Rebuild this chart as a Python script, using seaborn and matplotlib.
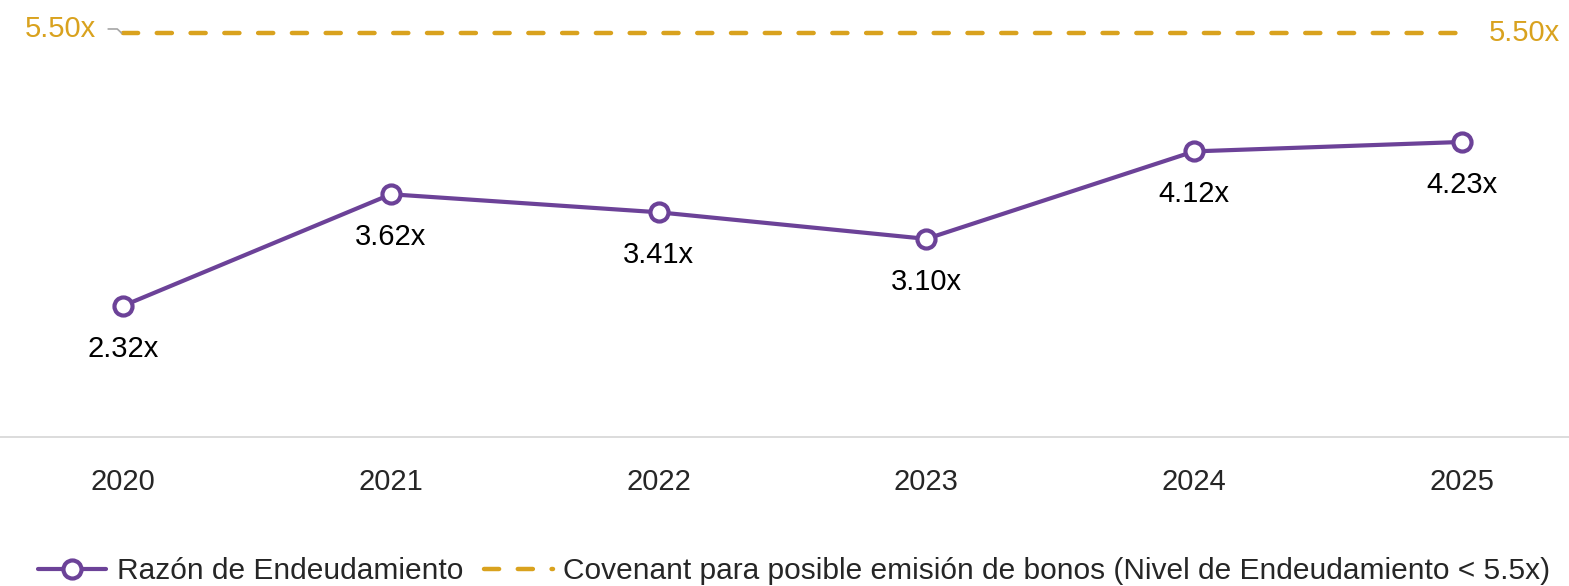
import matplotlib
matplotlib.use("Agg")
import matplotlib.pyplot as plt
import seaborn as sns
import pandas as pd

years = ["2020", "2021", "2022", "2023", "2024", "2025"]
ratio = [2.32, 3.62, 3.41, 3.10, 4.12, 4.23]
covenant = [5.5, 5.5, 5.5, 5.5, 5.5, 5.5]

purple = "#6C4298"
gold = "#D9A21E"

df = pd.DataFrame({"year": years, "ratio": ratio, "covenant": covenant})
df["pos"] = range(len(years))

sns.set_style("white")
plt.rcParams["font.family"] = ["Liberation Sans", "DejaVu Sans"]
fs = 21

fig = plt.figure(figsize=(15.69, 5.86), dpi=100)
ax = fig.add_axes([0, 1 - 437 / 586, 1, 437 / 586])

sns.lineplot(data=df, x="pos", y="covenant", ax=ax, color=gold, lw=3.2,
             dashes=(3.4, 4.2), dash_capstyle="round",
             label="Covenant para posible emisión de bonos (Nivel de Endeudamiento < 5.5x)")
sns.lineplot(data=df, x="pos", y="ratio", ax=ax, color=purple, lw=3,
             marker="o", markersize=13, markerfacecolor="white",
             markeredgecolor=purple, markeredgewidth=3,
             label="Razón de Endeudamiento")

for p, v in zip(df["pos"], df["ratio"]):
    ax.annotate(f"{v:.2f}x", (p, v), xytext=(0, -31), textcoords="offset points",
                ha="center", va="center", fontsize=fs, color="black")

# covenant labels at both ends
ax.annotate(f"{covenant[0]:.2f}x", (0, covenant[0]), xytext=(-45, 3),
            textcoords="offset points", ha="center", va="center",
            fontsize=fs, color=gold)
ax.plot([-0.056, -0.022, -0.006], [5.547, 5.547, 5.5], color="#A6A6A6", lw=1.2)
ax.annotate(f"{covenant[-1]:.2f}x", (5, covenant[-1]), xytext=(45, 0),
            textcoords="offset points", ha="center", va="center",
            fontsize=fs, color=gold)

ax.set_xlim(-0.46, 5.40)
ax.set_ylim(0.79, 5.885)
ax.set_xticks(df["pos"])
ax.set_xticklabels(years, fontsize=fs)
ax.tick_params(axis="x", length=0, pad=22)
ax.set_yticks([])
ax.set_xlabel("")
ax.set_ylabel("")
for s in ["top", "left", "right"]:
    ax.spines[s].set_visible(False)
ax.spines["bottom"].set_color("#D9D9D9")
ax.spines["bottom"].set_linewidth(1.3)

h, l = ax.get_legend_handles_labels()
ax.get_legend().remove()
fig.legend(h[::-1], l[::-1], loc="center", bbox_to_anchor=(0.506, 1 - 571 / 586),
           ncol=2, frameon=False, fontsize=21.5, handlelength=2.3, handletextpad=0.35,
           columnspacing=0.7, borderpad=0, borderaxespad=0)

fig.savefig("out.png", dpi=100)
